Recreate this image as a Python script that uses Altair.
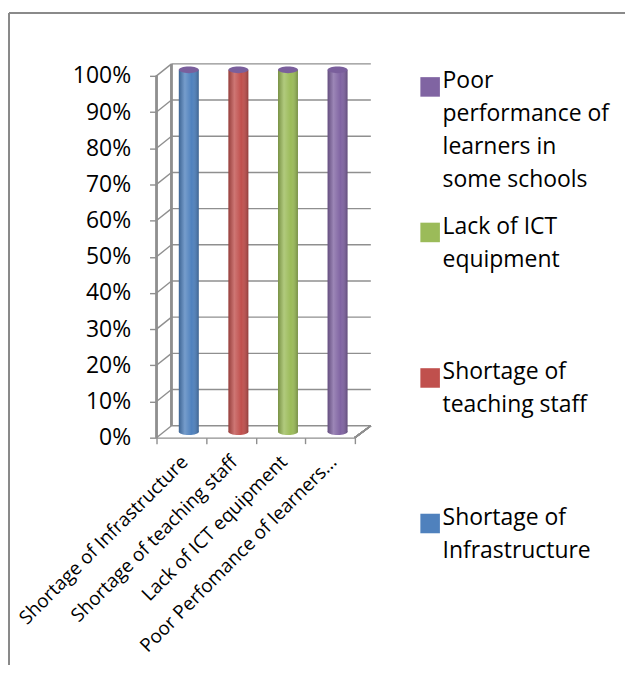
import altair as alt
import pandas as pd

# ---- data ----
categories = ["Shortage of Infrastructure", "Shortage of teaching staff",
              "Lack of ICT equipment", "Poor Perfomance of learners..."]
series = ["Shortage of|Infrastructure| | ", "Shortage of|teaching staff| | ",
          "Lack of ICT|equipment| | ", "Poor|performance of|learners in|some schools"]
values = [1.0, 1.0, 1.0, 1.0]
colors = ["#4F81BD", "#C0504D", "#9BBB59", "#8064A2"]
ticks = [0, 0.1, 0.2, 0.3, 0.4, 0.5, 0.6, 0.7, 0.8, 0.9, 1.0]

# ---- geometry / style ----
FONT = "Open Sans"
FRONT_W = 199      # width of front floor edge (category band range)
DX, DY = 15, 12    # 3-D depth offset
FRONT_H = 363      # pixels for 0% -> 100%
W = FRONT_W + DX + 1
H = FRONT_H + DY
Y_MAX = H / FRONT_H
GRID = "#8f8f8f"

df = pd.DataFrame({"category": categories, "series": series, "value": values})
tk = pd.DataFrame({"tick": ticks})

xs = alt.Scale(domain=categories, range=[0, FRONT_W], paddingInner=0, paddingOuter=0)
ys = alt.Scale(domain=[0, Y_MAX], nice=False, zero=True)

order = list(reversed(series))
cs = alt.Scale(domain=order, range=list(reversed(colors)))

ellipse = "M-1,0 A1,0.33 0 1,0 1,0 A1,0.33 0 1,0 -1,0 Z"
legend_sym = "M-1.4,-1.6 L1.4,-1.6 L1.4,1.2 L-1.4,1.2 Z"

X_axis = alt.Axis(title=None, labelAngle=-45, labelAlign="right",
                  labelBaseline="middle", labelFontSize=19, labelFont=FONT,
                  labelColor="#000", labelLimit=400, labelPadding=15,
                  labelOffset=3, tickBand="extent", tickSize=6,
                  tickColor=GRID, domainColor=GRID, domainWidth=1.4,
                  tickWidth=1.4, labelOverlap=False, labelLineHeight=22)
X = alt.X("category:N", scale=xs, sort=categories, axis=X_axis)

Y_axis = alt.Axis(title=None, values=ticks, format=".0%", labelFontSize=23,
                  labelFont=FONT, labelColor="#000", tickSize=7, tickColor=GRID,
                  tickWidth=1.4, domain=False, grid=False, labelPadding=19,
                  labelOverlap=False, labelLineHeight=24)

base_t = alt.Chart(tk)

back_grid = base_t.mark_rule(color=GRID, strokeWidth=1.4, yOffset=-DY).encode(
    y=alt.Y("tick:Q", scale=ys, axis=Y_axis),
    x=alt.value(DX), x2=alt.value(W))

diag = base_t.mark_rule(color=GRID, strokeWidth=1.4, y2Offset=-DY).encode(
    y=alt.Y("tick:Q", scale=ys, axis=Y_axis), y2="tick:Q",
    x=alt.value(0), x2=alt.value(DX))

back_wall = alt.Chart(tk).mark_rule(color=GRID, strokeWidth=1.4,
                                    yOffset=-DY, y2Offset=-DY).encode(
    y=alt.datum(ticks[-1], scale=ys, axis=Y_axis), y2=alt.datum(ticks[0]),
    x=alt.value(DX))

front_axis = alt.Chart(tk).mark_rule(color=GRID, strokeWidth=1.4).encode(
    y=alt.datum(ticks[-1], scale=ys, axis=Y_axis), y2=alt.datum(ticks[0]),
    x=alt.value(0))

floor_right = alt.Chart(tk).mark_rule(color=GRID, strokeWidth=1.4, y2Offset=-DY).encode(
    y=alt.datum(ticks[0], scale=ys, axis=Y_axis), y2=alt.datum(ticks[0]),
    x=alt.value(FRONT_W), x2=alt.value(W))

# chart-area border (decoration)
border_left = alt.Chart(tk).mark_rule(color="#8a8a8a", strokeWidth=1.2).encode(
    x=alt.value(-148), y=alt.value(-51), y2=alt.value(603))
border_top = alt.Chart(tk).mark_rule(color="#8a8a8a", strokeWidth=1.2).encode(
    x=alt.value(-148), x2=alt.value(470), y=alt.value(-51))

base = alt.Chart(df)
C = alt.Color("series:N", scale=cs, sort=order,
              legend=alt.Legend(title=None, orient="none", legendX=263, legendY=13,
                                symbolType=legend_sym, symbolSize=196,
                                symbolStrokeWidth=0, symbolOpacity=1,
                                labelFont=FONT, labelFontSize=23, labelColor="#000",
                                labelExpr="split(datum.label, '|')",
                                labelBaseline="alphabetic", labelLimit=400,
                                labelOffset=1, rowPadding=23, padding=0,
                                gridAlign="all"))

bottom_cap = base.mark_point(shape=ellipse, size=400, filled=True, opacity=1,
                             strokeWidth=0, xOffset=DX / 2, yOffset=-DY / 2).encode(
    x=X, y=alt.datum(0, scale=ys, axis=Y_axis), color=C)

bars = base.mark_bar(width=20, xOffset=DX / 2, yOffset=-DY / 2, y2Offset=-DY / 2).encode(
    x=X, y=alt.Y("value:Q", scale=ys, axis=Y_axis), y2=alt.datum(0), color=C)

shade = alt.Gradient(gradient="linear", x1=0, x2=1, y1=0, y2=0, stops=[
    alt.GradientStop(offset=0, color="rgba(0,0,0,0.22)"),
    alt.GradientStop(offset=0.3, color="rgba(255,255,255,0.22)"),
    alt.GradientStop(offset=0.65, color="rgba(255,255,255,0.0)"),
    alt.GradientStop(offset=1, color="rgba(0,0,0,0.25)")])

bars_shade = base.mark_bar(width=20, xOffset=DX / 2, yOffset=-DY / 2,
                           y2Offset=-DY / 2, fill=shade).encode(
    x=X, y=alt.Y("value:Q", scale=ys, axis=Y_axis), y2=alt.datum(0))

bottom_shade = base.mark_point(shape=ellipse, size=400, filled=True, opacity=1,
                               strokeWidth=0, fill=shade, xOffset=DX / 2,
                               yOffset=-DY / 2).encode(
    x=X, y=alt.datum(0, scale=ys, axis=Y_axis))

top_cap = base.mark_point(shape=ellipse, size=400, filled=True, opacity=1,
                          strokeWidth=0, fill="#7a5f9c", xOffset=DX / 2,
                          yOffset=-DY / 2).encode(
    x=X, y=alt.Y("value:Q", scale=ys, axis=Y_axis))

chart = alt.layer(
    back_grid, border_left, border_top, diag, back_wall, front_axis, floor_right,
    bottom_cap, bottom_shade, bars, bars_shade, top_cap
).properties(
    width=W, height=H,
    padding={"left": 0, "top": 3, "right": 0, "bottom": 0},
    background="white"
).configure(
    style={"guide-label": {"lineHeight": 33}}
).configure_axis(labelOverlap=False).configure_view(stroke=None)

chart.save("out.html", embed_options={"renderer": "svg", "actions": False})
